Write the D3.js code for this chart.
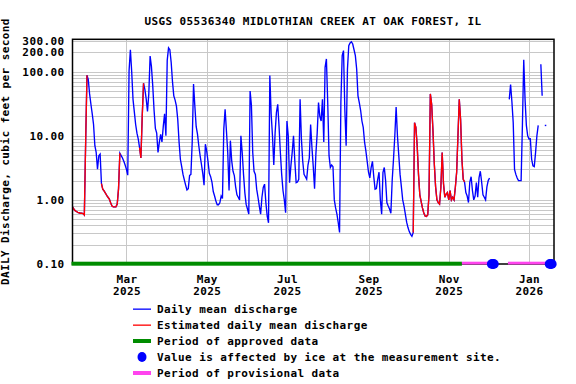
<!DOCTYPE html>
<html><head><meta charset="utf-8">
<script src="https://cdn.jsdelivr.net/npm/d3@7"></script>
<style>
html,body{margin:0;padding:0;background:#fff;}
svg text{font-family:"DejaVu Sans Mono",monospace;font-weight:bold;font-size:11px;letter-spacing:0.4px;fill:#000;}
</style></head><body>
<svg id="chart" width="576" height="384"></svg>
<script>
const title = "USGS 05536340 MIDLOTHIAN CREEK AT OAK FOREST, IL";
const yAxisTitle = "DAILY Discharge, cubic feet per second";
const startDate = "2025-01-19";
const endDate = "2026-01-20";
// daily mean discharge, cfs, one value per day from startDate (null = no data)
const discharge = [
0.78,0.72,0.68,0.66,0.64,0.63,0.62,0.62,0.61,0.58,
8,88,75,45,31,22,15,7,5.5,3.0,
4.9,5.2,1.8,1.47,1.38,1.28,1.18,1.1,1.03,0.9,
0.8,0.78,0.78,0.78,0.86,1.5,5.35,4.9,4.5,4.0,
3.5,3.0,2.43,103,220,100,37,23.6,15,11,
8.9,6.5,4.5,20,66,53,38,24,45,175,
120,60,25,13,11,5.5,7.9,10.5,8,14,
22,10,150,235,220,140,70,42,36,29,
18,8,4.3,3.3,2.5,2.05,1.7,1.43,1.5,2.4,
2.5,8,64,29,14,10.6,7,4.9,3.6,2.6,
1.7,7.4,5.8,4.0,2.6,2.3,1.9,1.35,1.15,0.96,
0.84,0.84,0.9,1.15,1.05,12.7,26,12,5.5,1.4,
8.4,4.1,2.8,2.4,1.6,1.2,1.1,1.0,10,5.5,
2.5,1.3,0.85,0.72,0.6,50,30,5.5,2.8,2.5,
1.47,1.1,0.8,0.6,1.1,1.56,1.76,0.9,0.56,0.44,
87,22,10,3.5,11,23,31,14,5.5,2.5,
1.4,1.0,0.63,17,10,1.86,3.4,5.5,10,4,
1.86,1.9,2.1,37,9,4,2.5,2.3,2.1,3.5,
4.5,15,6.6,3.3,1.5,5.2,11,33,20,17,
37,8,117,158,33,4.9,3.2,3.5,3.3,1.0,
0.75,0.6,0.44,0.31,33,178,213,26,7,110,
254,280,293,270,220,178,110,42,33,25,
17,13.5,8,5.8,4.0,2.7,2.2,3.2,4.0,2.3,
1.47,1.5,2.1,2.7,1.0,0.6,2.7,3.2,2.0,0.9,
0.8,0.72,0.62,2.0,4.3,10,28,10,5,2.5,
1.6,1.0,0.8,0.6,0.45,0.37,0.32,0.29,0.27,0.31,
16,13.5,7,2.5,1.2,0.95,0.75,0.63,0.56,0.55,
0.58,1.2,45,31,12,3.7,1.6,1.0,0.91,0.86,
1.56,5.5,1.8,1.1,1.23,1.3,1.0,1.4,1.0,1.1,
1.0,1.56,2.7,10,37,18,4.3,2.1,1.9,1.3,
1.15,0.91,1.9,2.3,1.4,1.0,1.15,1.86,1.1,2.2,
2.8,1.9,1.2,1.1,1.0,1.6,2.0,2.2,null,null,
null,null,null,null,null,null,null,null,null,null,
null,null,37,63,34,16,3.0,2.5,2.2,2.0,
2.0,2.0,15,154,37,14.5,10,8.9,9,4.3,
3.4,3.3,5.5,10,14.5,null,131,42,null,14.5,
null,null,null,null,null,null,null
];
const estimatedPeriods = [["2025-01-19","2025-01-30"],["2025-02-11","2025-02-24"],["2025-03-12","2025-03-14"],["2025-10-06","2025-11-13"]];
const approvedPeriods = [["2025-01-19","2025-11-11"]];
const provisionalPeriods = [["2025-11-11","2025-12-03"],["2025-12-16","2026-01-20"]];
const iceDates = ["2025-12-04","2025-12-05","2026-01-17","2026-01-18"];
const yTickValues = [0.1, 1, 10, 100, 200, 300];
const yTickLabels = ["0.10","1.00","10.00","100.00","200.00","300.00"];
const xTickDates = ["2025-03-01","2025-05-01","2025-07-01","2025-09-01","2025-11-01","2026-01-01"];
const legendLabels = ["Daily mean discharge","Estimated daily mean discharge","Period of approved data","Value is affected by ice at the measurement site.","Period of provisional data"];

const parse = d3.utcParse("%Y-%m-%d");
const t0 = parse(startDate);
const series = discharge.map((v,i)=>({date: d3.utcDay.offset(t0,i), v}));

const L=72.5, R=554, T=39.3, B=264;
const x = d3.scaleUtc().domain([t0, parse(endDate)]).range([L,R]);
const y = d3.scaleLog().domain([0.1, 320]).range([B,T]);

const svg = d3.select("#chart");
const C = {blue:"#0000ff", red:"#ff0000", green:"#008c00", pink:"#ff44ee", grid:"#c8c8c8"};

// title
svg.append("text").attr("x",313).attr("y",24.5).attr("text-anchor","middle").text(title);

// grid
const grid = svg.append("g");
const hv=[];
for(let k=-1;k<=2;k++) for(let m=1;m<=9;m++){const v=m*Math.pow(10,k); if(v>0.1&&v<=320) hv.push(v);}
grid.selectAll("line.h").data(hv).join("line")
  .attr("x1",L).attr("x2",R).attr("y1",d=>Math.round(y(d))+0.5).attr("y2",d=>Math.round(y(d))+0.5)
  .attr("stroke",C.grid).attr("stroke-width",1);
grid.selectAll("line.v").data(xTickDates.map(parse)).join("line")
  .attr("x1",d=>Math.round(x(d))+0.5).attr("x2",d=>Math.round(x(d))+0.5).attr("y1",T).attr("y2",B)
  .attr("stroke",C.grid).attr("stroke-width",1);

// data lines
const line = d3.line().defined(d=>d.v!=null).x(d=>x(d.date)).y(d=>y(d.v));
svg.append("path").datum(series).attr("d",line).attr("fill","none").attr("stroke",C.blue)
  .attr("stroke-width",1.35);
// isolated points
series.forEach((d,i)=>{
  if(d.v!=null && (i===0||series[i-1].v==null) && (i===series.length-1||series[i+1].v==null)){
    svg.append("rect").attr("x",x(d.date)).attr("y",y(d.v)-0.7).attr("width",1.5).attr("height",1.4).attr("fill",C.blue);
  }
});
estimatedPeriods.forEach(p=>{
  const a=parse(p[0]), b=parse(p[1]);
  const seg = series.filter((d,i)=>{
    const nxt = series[i+1];
    return (d.date>=a && d.date<=b) || (nxt && nxt.date>=a && nxt.date<=b && d.date<a);
  });
  svg.append("path").datum(seg).attr("d",line).attr("fill","none").attr("stroke",C.red)
    .attr("stroke-width",1.35);
});

// frame
svg.append("rect").attr("x",L).attr("y",T).attr("width",R-L).attr("height",B-T)
  .attr("fill","none").attr("stroke","#000").attr("stroke-width",1.5);

// y axis
const ya = svg.append("g").attr("transform",`translate(${L},0)`)
  .call(d3.axisLeft(y).tickValues(yTickValues).tickFormat((d,i)=>yTickLabels[i]).tickSize(0).tickPadding(8));
ya.select(".domain").remove();
ya.selectAll("text").attr("font-family",null).attr("font-size",null).attr("fill","#000");

// x axis
const xa = svg.append("g").attr("transform",`translate(0,${B})`)
  .call(d3.axisBottom(x).tickValues(xTickDates.map(parse)).tickSize(0).tickFormat(""));
xa.select(".domain").remove();
xa.selectAll(".tick text").attr("y",0).attr("dy",null).attr("font-family",null).attr("font-size",null).attr("fill","#000")
  .each(function(d){
    const t=d3.select(this);
    t.append("tspan").attr("x",0).attr("y",18.5).text(d3.utcFormat("%b")(d));
    t.append("tspan").attr("x",0).attr("y",30.5).text(d3.utcFormat("%Y")(d));
  });

// y title
svg.append("text").attr("transform",`translate(9,${(T+B)/2}) rotate(-90)`).attr("text-anchor","middle").text(yAxisTitle);

// period bars
approvedPeriods.forEach(p=>{
  svg.append("rect").attr("x",x(parse(p[0]))-1).attr("y",B-2.3).attr("width",x(parse(p[1]))-x(parse(p[0]))+1).attr("height",4).attr("fill",C.green);
});
provisionalPeriods.forEach(p=>{
  svg.append("rect").attr("x",x(parse(p[0]))).attr("y",B-2.3).attr("width",x(parse(p[1]))-x(parse(p[0]))+1).attr("height",2.8).attr("fill",C.pink);
});
svg.selectAll("ellipse.ice").data(iceDates.map(parse)).join("ellipse")
  .attr("cx",d=>x(d)).attr("cy",B).attr("rx",5.3).attr("ry",5).attr("fill",C.blue);

// legend
const lg = svg.append("g");
const rows=[309,325,341,357,373];
legendLabels.forEach((lab,i)=>{
  const cy=rows[i];
  lg.append("text").attr("x",157).attr("y",cy+4).text(lab);
});
lg.append("rect").attr("x",133).attr("y",rows[0]-0.5).attr("width",18).attr("height",1.3).attr("fill",C.blue);
lg.append("rect").attr("x",133).attr("y",rows[1]-0.5).attr("width",18).attr("height",1.3).attr("fill",C.red);
lg.append("rect").attr("x",133).attr("y",rows[2]-2).attr("width",18).attr("height",4).attr("fill",C.green);
lg.append("ellipse").attr("cx",142).attr("cy",rows[3]).attr("rx",4.5).attr("ry",5).attr("fill",C.blue);
lg.append("rect").attr("x",133).attr("y",rows[4]-2).attr("width",18).attr("height",4).attr("fill",C.pink);
</script>
</body></html>
